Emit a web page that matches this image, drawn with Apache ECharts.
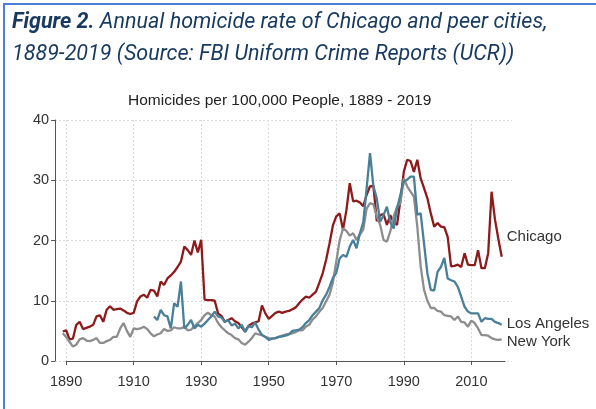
<!DOCTYPE html>
<html>
<head>
<meta charset="utf-8">
<script src="https://cdn.jsdelivr.net/npm/echarts@6/dist/echarts.min.js"></script>
<style>
  html, body { margin: 0; padding: 0; background: #fff; }
  #wrap { position: relative; width: 596px; height: 409px; overflow: hidden; }
  #main { position: absolute; left: 0; top: 0; width: 596px; height: 409px; }
  #frame {
    position: absolute; left: 3px; top: 3px; right: -10px; bottom: -10px;
    border-top: 2px solid #4d80d6; border-left: 2px solid #4d80d6;
    pointer-events: none;
  }
</style>
</head>
<body>
<div id="wrap">
  <div id="main"></div>
  <div id="frame"></div>
</div>
<script>
// homicides per 100,000 people, one value per year
var chicagoStart = 1889;
var chicagoRates = [
  4.9,
  5.1, 3.6, 3.7, 6.0, 6.5, 5.3, 5.5, 5.7, 6.0, 7.4,
  7.6, 6.5, 8.5, 9.1, 8.5, 8.6, 8.7, 8.4, 8.0, 7.8,
  8.0, 9.9, 10.7, 11.0, 10.5, 11.8, 11.7, 10.7, 13.2, 12.6,
  13.7, 14.2, 14.8, 15.6, 16.5, 19.0, 18.4, 17.6, 20.0, 18.0,
  20.1, 10.2, 10.1, 10.1, 10.0, 7.9, 7.5, 6.5, 6.8, 7.1,
  6.6, 6.3, 5.6, 4.9, 5.8, 6.2, 6.4, 6.6, 9.2, 7.9,
  7.0, 7.5, 8.0, 8.2, 8.0, 8.2, 8.3, 8.6, 8.9, 9.6,
  10.2, 10.7, 10.5, 11.0, 11.5, 13.0, 14.6, 16.8, 19.5, 22.5,
  24.0, 24.5, 21.8, 25.0, 29.5, 26.5, 26.6, 26.3, 25.7, 27.6,
  29.0, 29.1, 23.2, 24.2, 24.4, 22.6, 24.2, 23.0, 22.6, 26.7,
  31.4, 33.4, 33.2, 31.4, 33.4, 30.3, 28.7, 27.0, 24.5, 22.3,
  22.9, 22.3, 22.2, 20.6, 15.7, 15.8, 16.0, 15.6, 17.9, 16.0,
  15.9, 15.9, 18.4, 15.4, 15.4, 17.9, 28.1, 23.5, 20.3, 17.3
];

var newYorkStart = 1889;
var newYorkRates = [
  4.6,
  4.0, 3.2, 2.4, 2.7, 3.6, 3.8, 3.4, 3.3, 3.5, 3.8,
  3.0, 3.0, 3.3, 3.5, 4.0, 4.0, 5.4, 6.3, 5.0, 4.0,
  5.4, 5.3, 5.4, 5.7, 5.3, 4.6, 4.1, 4.4, 4.6, 5.3,
  5.0, 5.1, 5.6, 5.4, 5.4, 5.7, 5.1, 5.2, 5.8, 6.3,
  6.8, 7.6, 8.0, 7.6, 7.4, 6.3, 5.6, 5.1, 4.6, 4.3,
  3.8, 3.6, 3.0, 2.7, 3.2, 3.8, 4.6, 4.4, 4.3, 4.0,
  3.8, 3.7, 3.8, 4.0, 4.2, 4.4, 4.5, 4.6, 4.8, 5.1,
  5.1, 5.7, 6.0, 6.9, 7.4, 8.2, 8.8, 9.9, 11.0, 13.0,
  16.5, 20.0, 22.0, 21.6, 20.8, 21.2, 20.1, 21.0, 21.8, 25.3,
  26.2, 26.0, 24.0, 22.6, 20.1, 19.8, 21.5, 24.0, 25.6, 26.2,
  30.3, 29.0, 28.1, 27.3, 22.3, 15.7, 11.8, 10.0, 8.8, 8.8,
  8.3, 8.2, 7.6, 7.5, 7.4, 6.8, 7.4, 6.5, 6.4, 5.7,
  6.7, 6.3, 5.4, 4.3, 4.3, 4.2, 3.8, 3.6, 3.5, 3.6
];

var losAngelesStart = 1916;
var losAngelesRates = [
  7.4, 6.8, 8.5, 7.6,
  7.4, 5.4, 9.6, 9.0, 13.2, 5.4, 6.0, 6.8, 5.4, 6.0,
  5.7, 6.2, 6.8, 7.4, 8.2, 7.4, 7.2, 6.5, 6.8, 5.9,
  6.2, 5.4, 6.0, 4.8, 5.8, 5.6, 6.4, 5.2, 4.3, 4.0,
  3.5, 3.7, 3.8, 4.0, 4.1, 4.2, 4.4, 5.0, 5.1, 5.2,
  5.6, 6.3, 6.8, 7.6, 8.2, 8.8, 10.1, 11.0, 12.3, 13.8,
  14.6, 17.0, 17.6, 17.3, 19.0, 20.1, 18.7, 21.2, 23.0, 28.7,
  34.5, 29.0, 27.0, 23.1, 24.2, 25.6, 23.0, 22.0, 25.3, 27.6,
  29.8, 30.1, 30.6, 30.6, 24.3, 24.5, 19.5, 14.5, 11.8, 11.7,
  14.8, 15.6, 17.1, 13.7, 13.4, 13.2, 12.3, 10.7, 9.0, 8.2,
  7.9, 7.9, 7.9, 6.5, 7.1, 7.0, 7.0, 6.5, 6.3, 6.0
];

var yearTicks = [1890, 1910, 1930, 1950, 1970, 1990, 2010];
var cityNames = ["Chicago", "Los Angeles", "New York"];

function toPoints(start, values) {
  return values.map(function(v, i) {
    return [start + i, v];
  });
}

var myChart = echarts.init(document.getElementById("main"));
var textColor = "#333333";
var gridColor = "#dcdcdc";
var axisColor = "#555555";
var headColor = "#173a5e";

var option = {
  animation: false,
  title: [
    {
      left: 12,
      top: 7,
      padding: 0,
      text: "{b|Figure 2.}{n| Annual homicide rate of Chicago and peer cities,}\n{n|1889-2019 (Source: FBI Uniform Crime Reports (UCR))}",
      textStyle: {
        rich: {
          b: { fontFamily: "Roboto", fontSize: 21.5, fontStyle: "italic", fontWeight: "bold", color: headColor, lineHeight: 32 },
          n: { fontFamily: "Roboto", fontSize: 21.5, fontStyle: "italic", fontWeight: "normal", color: headColor, lineHeight: 32 }
        }
      }
    },
    {
      left: 128,
      top: 93,
      padding: 0,
      text: "Homicides per 100,000 People, 1889 - 2019",
      textStyle: { fontFamily: "Liberation Sans", fontSize: 15.5, fontWeight: "normal", color: "#222222" }
    }
  ],
  grid: [
    { left: 55, right: 84, top: 120, bottom: 48 },
    { left: 66.1, right: 90.9, top: 120, bottom: 48 }
  ],
  xAxis: [
    {
      type: "value",
      gridIndex: 0,
      min: 1886.7,
      max: 2022.05,
      show: false,
      splitLine: { show: false }
    },
    {
      type: "value",
      gridIndex: 1,
      min: 1890,
      max: 2020,
      interval: 20,
      offset: 7,
      axisLine: { show: true, lineStyle: { color: axisColor, width: 1 } },
      axisTick: { show: true, customValues: yearTicks, length: 4, lineStyle: { color: axisColor } },
      axisLabel: {
        customValues: yearTicks,
        formatter: function(v) {
          return String(v);
        },
        color: textColor,
        fontFamily: "Liberation Sans",
        fontSize: 14.5,
        margin: 6
      },
      splitLine: { show: true, lineStyle: { color: gridColor, type: [2, 2], width: 1 } }
    }
  ],
  yAxis: [
    {
      type: "value",
      gridIndex: 0,
      min: 0,
      max: 40,
      interval: 10,
      axisLine: { show: false },
      axisTick: { show: false },
      axisLabel: { show: false },
      splitLine: { show: true, lineStyle: { color: gridColor, type: [2, 2], width: 1 } }
    },
    {
      type: "value",
      gridIndex: 1,
      min: 0,
      max: 40,
      interval: 10,
      offset: 11,
      axisLine: { show: true, lineStyle: { color: axisColor, width: 1 } },
      axisTick: { show: true, length: 4, lineStyle: { color: axisColor } },
      axisLabel: { color: textColor, fontFamily: "Liberation Sans", fontSize: 14.5, margin: 6 },
      splitLine: { show: false }
    }
  ],
  series: [
    {
      name: cityNames[0],
      type: "line",
      xAxisIndex: 0,
      yAxisIndex: 0,
      showSymbol: false,
      lineStyle: { color: "#8e1b1b", width: 2.3 },
      itemStyle: { color: "#8e1b1b" },
      endLabel: {
        show: true,
        formatter: cityNames[0],
        distance: 5,
        offset: [0, -20],
        color: textColor,
        fontFamily: "Liberation Sans",
        fontSize: 15
      },
      data: toPoints(chicagoStart, chicagoRates)
    },
    {
      name: cityNames[2],
      type: "line",
      xAxisIndex: 0,
      yAxisIndex: 0,
      showSymbol: false,
      lineStyle: { color: "#8d8d8d", width: 2.3 },
      itemStyle: { color: "#8d8d8d" },
      endLabel: {
        show: true,
        formatter: cityNames[2],
        distance: 5,
        offset: [0, 3],
        color: textColor,
        fontFamily: "Liberation Sans",
        fontSize: 15
      },
      data: toPoints(newYorkStart, newYorkRates)
    },
    {
      name: cityNames[1],
      type: "line",
      xAxisIndex: 0,
      yAxisIndex: 0,
      showSymbol: false,
      lineStyle: { color: "#4a7f98", width: 2.3 },
      itemStyle: { color: "#4a7f98" },
      endLabel: {
        show: true,
        formatter: cityNames[1],
        distance: 5,
        offset: [0, -1],
        color: textColor,
        fontFamily: "Liberation Sans",
        fontSize: 15
      },
      data: toPoints(losAngelesStart, losAngelesRates)
    }
  ]
};
myChart.setOption(option);
</script>
</body>
</html>
